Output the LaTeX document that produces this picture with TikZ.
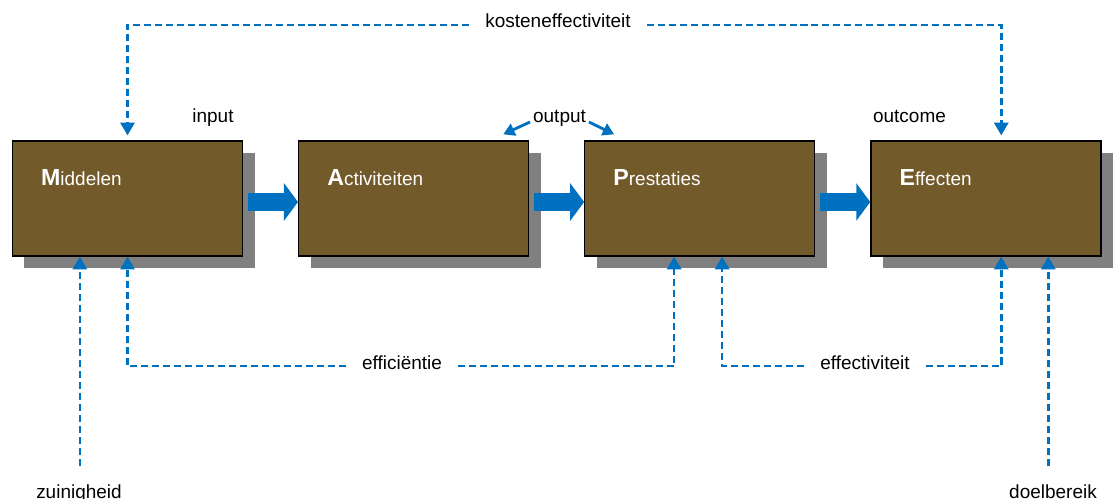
\documentclass[tikz,border=0pt]{standalone}
\usepackage{fontspec}
\setmainfont{Liberation Sans}
\usetikzlibrary{positioning,arrows.meta,calc,shadows}
\definecolor{cbruin}{HTML}{735A2A}
\definecolor{cblauw}{HTML}{0070C0}
\definecolor{cschaduw}{HTML}{808080}
\tikzset{
  blok/.style={rectangle, draw=black, line width=0.9pt, fill=cbruin,
    minimum width=5.75cm, minimum height=2.875cm, inner sep=0pt,
    drop shadow={shadow xshift=0.3cm, shadow yshift=-0.3cm, fill=cschaduw, opacity=1}},
  bloktekst/.style={anchor=base west, inner sep=0pt, text=white, font=\fontsize{13.5}{16}\selectfont},
  blokpijl/.style={draw=cblauw, line width=0.45cm, -{Triangle[length=0.35cm, width=0.925cm]}},
  stippelpijl/.style={draw=cblauw, line width=1.9pt, dash pattern=on 5pt off 2.8pt,
    -{Triangle[length=9pt, width=10pt]}},
  pijl/.style={draw=cblauw, line width=2pt, -{Triangle[length=8pt, width=9pt]}},
  etiket/.style={font=\fontsize{13.5}{16}\selectfont, inner sep=0pt},
  lijnetiket/.style={etiket, fill=white, inner xsep=0.4cm, inner ysep=0pt,
    text height=0.35cm, text depth=0.2cm},
}
\newcommand{\groot}[1]{{\fontsize{16.5}{18}\selectfont\bfseries #1}}

\begin{document}
\begin{tikzpicture}[x=0.025cm, y=-0.025cm, node distance=0cm and 1.37cm]
  \useasboundingbox (0,0) rectangle (1113,499);
  % de vier blokken
  \node[blok] (mid) at (127.5,198.5) {};
  \node[blok, right=of mid] (act) {};
  \node[blok, right=of act] (pre) {};
  \node[blok, right=of pre] (eff) {};
  \node[bloktekst] (midtxt) at ($(mid.north west)+(29,45)$) {\groot{M}iddelen};
  \node[bloktekst] (acttxt) at ($(act.north west)+(29,45)$) {\groot{A}ctiviteiten};
  \node[bloktekst] (pretxt) at ($(pre.north west)+(29,45)$) {\groot{P}restaties};
  \node[bloktekst] (efftxt) at ($(eff.north west)+(29,45)$) {\groot{E}ffecten};

  \draw[blokpijl] ($(mid.east)+(5,3.5)$) -- ($(act.west)+(0,3.5)$);
  \draw[blokpijl] ($(act.east)+(5,3.5)$) -- ($(pre.west)+(0,3.5)$);
  \draw[blokpijl] ($(pre.east)+(5,3.5)$) -- ($(eff.west)+(0,3.5)$);

  % input / output / outcome
  \node[etiket, anchor=base] (inlbl) at (213,122) {input};
  \node[etiket, anchor=base, inner sep=2pt] (outlbl) at (559.5,122) {output};
  \node[etiket, anchor=base] (outclbl) at (909.5,122) {outcome};
  \draw[pijl] (outlbl.base west) -- ($(act.north east)+(-26,-6)$);
  \draw[pijl] (outlbl.base east) -- ($(pre.north west)+(30,-6)$);

  % aansluitpunten
  \coordinate (midT) at ($(mid.north)+(0,-5)$);
  \coordinate (effT) at ($(eff.north west)+(131,-5)$);
  \coordinate (midB0) at ($(mid.south west)+(68,0)$);
  \coordinate (preB1) at ($(pre.south west)+(90,0)$);
  \coordinate (preB2) at ($(pre.south west)+(138,0)$);
  \coordinate (effB1) at ($(eff.south west)+(131,0)$);
  \coordinate (effB2) at ($(eff.south west)+(178,0)$);

  \node[lijnetiket] (kostlbl) at (558,25) {kosteneffectiviteit};
  \node[lijnetiket] (efclbl) at (402,366) {efficiëntie};
  \node[lijnetiket] (efvlbl) at (865,366) {effectiviteit};
  \draw[stippelpijl] (kostlbl) -| (midT);
  \draw[stippelpijl] (kostlbl) -| (effT);
  \draw[stippelpijl] (efclbl) -| (mid.south);
  \draw[stippelpijl] (efclbl) -| (preB1);
  \draw[stippelpijl] (efvlbl) -| (preB2);
  \draw[stippelpijl] (efvlbl) -| (effB1);

  \node[etiket, anchor=base] (zuinlbl) at (79,498) {zuinigheid};
  \node[etiket, anchor=base] (doellbl) at (1053,498) {doelbereik};
  \draw[stippelpijl, shorten <=0.45cm] (zuinlbl.north -| midB0) -- (midB0);
  \draw[stippelpijl, shorten <=0.45cm] (doellbl.north -| effB2) -- (effB2);
\end{tikzpicture}
\end{document}
